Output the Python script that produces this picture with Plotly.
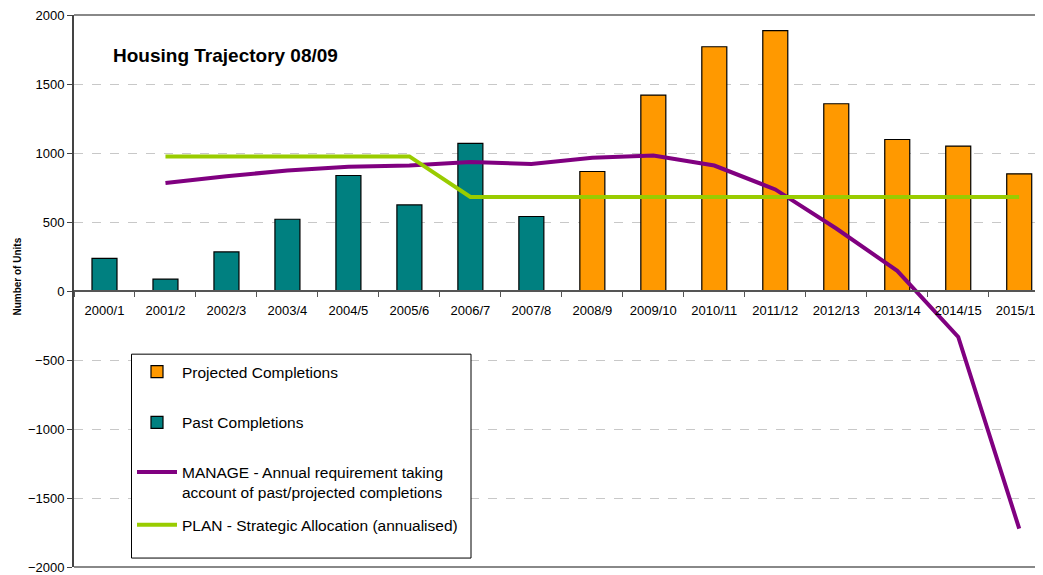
import plotly.graph_objects as go

categories = ["2000/1", "2001/2", "2002/3", "2003/4", "2004/5", "2005/6", "2006/7", "2007/8",
              "2008/9", "2009/10", "2010/11", "2011/12", "2012/13", "2013/14", "2014/15", "2015/16"]
past_completions = [237, 86, 283, 520, 837, 624, 1070, 540,
                    None, None, None, None, None, None, None, None]
projected_completions = [None, None, None, None, None, None, None, None,
                         866, 1420, 1770, 1887, 1357, 1098, 1050, 849]
manage = [None, 782, 832, 873, 901, 909, 935, 921, 966, 981, 909, 736, 453, 146, -333, -1722]
plan = [None, 975, 975, 975, 975, 975, 681, 681, 681, 681, 681, 681, 681, 681, 681, 681]
y_ticks = [-2000, -1500, -1000, -500, 0, 500, 1000, 1500, 2000]

FONT = "Liberation Sans, Arial, sans-serif"

# page body adds ~8px offset; plot area spans x 74..1043, y 15..570 in window pixels
OX, OY = 8, 8
PL, PR, PT, PB = 74, 1043, 15, 570
PW, PH = PR - PL, PB - PT


def px(x):
    return (x - PL) / PW


def py(y):
    return (PB - y) / PH


fig = go.Figure()
fig.add_trace(go.Bar(
    x=categories, y=projected_completions, name="Projected Completions",
    marker=dict(color="#FF9900", line=dict(color="black", width=1.2)),
    width=0.41, legend="legend"))
fig.add_trace(go.Bar(
    x=categories, y=past_completions, name="Past Completions",
    marker=dict(color="#008080", line=dict(color="black", width=1.2)),
    width=0.41, legend="legend2"))
fig.add_trace(go.Scatter(
    x=categories, y=manage, mode="lines",
    name="MANAGE - Annual requirement taking<br>account of past/projected completions",
    line=dict(color="#800080", width=4), legend="legend3"))
fig.add_trace(go.Scatter(
    x=categories, y=plan, mode="lines",
    name="PLAN - Strategic Allocation (annualised)",
    line=dict(color="#99CC00", width=4), legend="legend4"))

leg_common = dict(xanchor="left", yanchor="middle", bgcolor="rgba(0,0,0,0)",
                  borderwidth=0, font=dict(size=15.5, family=FONT, color="black"),
                  valign="top", itemwidth=40)
LX = px(132)

fig.update_layout(
    width=1043 - OX, height=575 - OY,
    margin=dict(l=PL - OX, r=0, t=PT - OY, b=575 - PB),
    paper_bgcolor="white", plot_bgcolor="white",
    barmode="overlay",
    font=dict(family=FONT, size=13, color="black"),
    showlegend=True,
    legend=dict(x=LX, y=py(374), **leg_common),
    legend2=dict(x=LX, y=py(425), **leg_common),
    legend3=dict(x=LX, y=py(485), **leg_common),
    legend4=dict(x=LX, y=py(528), **leg_common),
    xaxis=dict(
        type="category", range=[-0.5, 15.39],
        anchor="free", position=0.5,
        showline=True, linecolor="#555555", linewidth=1.5,
        ticks="outside", tickson="boundaries", ticklen=5, tickcolor="#555555",
        showgrid=False, tickfont=dict(size=13), ticklabelstandoff=8,
        ticklabeloverflow="allow",
    ),
    yaxis=dict(
        range=[-2000, 2000], tickvals=y_ticks,
        showline=True, linecolor="#444444", linewidth=2,
        ticks="outside", ticklen=5, tickcolor="#444444",
        showgrid=True, gridcolor="#C8C8C8", griddash="dash", gridwidth=1,
        zeroline=False, tickfont=dict(size=13), ticklabeloverflow="allow",
    ),
    shapes=[
        dict(type="line", xref="paper", yref="paper", x0=0, x1=1, y0=1, y1=1,
             line=dict(color="#888888", width=2)),
        dict(type="line", xref="paper", yref="paper", x0=0, x1=1, y0=0, y1=0,
             line=dict(color="#888888", width=2)),
        dict(type="rect", xref="paper", yref="paper", layer="above",
             x0=px(131.5), x1=px(471), y0=py(561), y1=py(356),
             fillcolor="white", line=dict(color="black", width=1)),
    ],
    annotations=[
        dict(text="<b>Housing Trajectory 08/09</b>", xref="paper", yref="paper",
             x=px(111), y=py(56), xanchor="left", yanchor="middle",
             showarrow=False, font=dict(size=19, family=FONT)),
        dict(text="<b>Number of Units</b>", xref="paper", yref="paper",
             x=px(18), y=py(278), xanchor="center", yanchor="middle",
             textangle=-90, showarrow=False, font=dict(size=10, family=FONT)),
    ],
)

fig.write_html("out.html")
